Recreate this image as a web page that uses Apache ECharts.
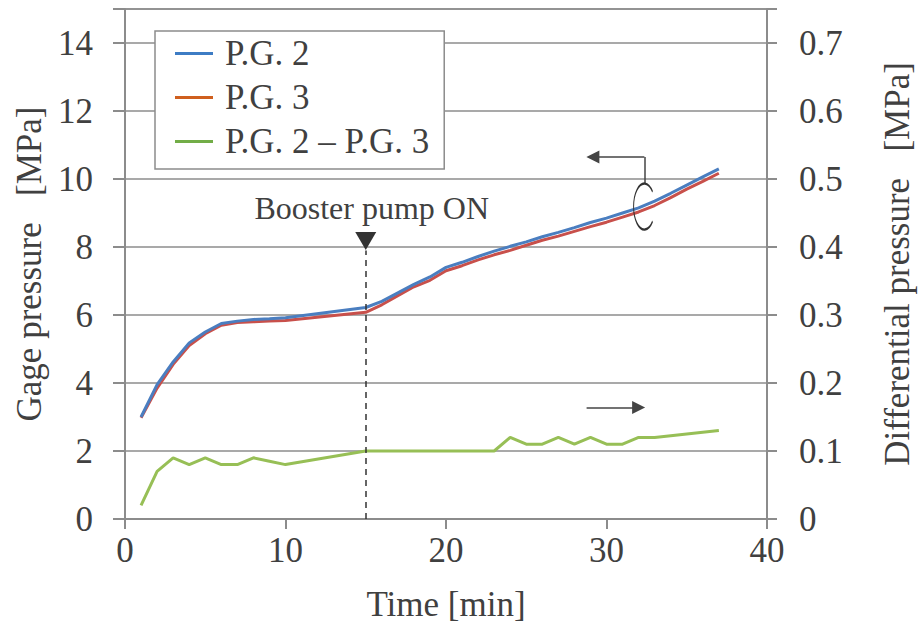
<!DOCTYPE html>
<html><head><meta charset="utf-8">
<script src="https://cdn.jsdelivr.net/npm/echarts@6/dist/echarts.min.js"></script>
<style>html,body{margin:0;padding:0;background:#fff}#c{width:923px;height:634px}</style>
</head><body><div id="c"></div>
<script>
// Time [min]
const timePG = [1,2,3,4,5,6,7,8,9,10,15,16,17,18,19,20,21,22,23,24,25,26,27,28,29,30,31,32,33,34,35,36,37];
// P.G. 2 [MPa]
const pg2 = [3.0,3.95,4.62,5.18,5.5,5.75,5.82,5.87,5.89,5.92,6.22,6.4,6.65,6.9,7.12,7.4,7.55,7.72,7.88,8.02,8.15,8.3,8.43,8.57,8.72,8.85,9.0,9.15,9.35,9.58,9.82,10.06,10.3];
// P.G. 3 [MPa]
const pg3 = [2.98,3.85,4.55,5.1,5.45,5.7,5.78,5.8,5.82,5.84,6.08,6.3,6.57,6.83,7.02,7.3,7.45,7.62,7.77,7.9,8.05,8.2,8.32,8.46,8.6,8.73,8.88,9.03,9.22,9.45,9.7,9.93,10.17];
// P.G. 2 - P.G. 3 [MPa]
const timeDiff = [1,2,3,4,5,6,7,8,9,10,15,16,17,18,19,20,21,22,23,24,25,26,27,28,29,30,31,32,33,37];
const diff = [0.02,0.07,0.09,0.08,0.09,0.08,0.08,0.09,0.085,0.08,0.1,0.1,0.1,0.1,0.1,0.1,0.1,0.1,0.1,0.12,0.11,0.11,0.12,0.11,0.12,0.11,0.11,0.12,0.12,0.13];
const pumpOnTime = 15;
const seriesNames = ['P.G. 2','P.G. 3','P.G. 2 \u2013 P.G. 3'];

const FONT = '"Liberation Serif", "Times New Roman", serif';
const TXT = '#404040';
const GRID = '#8c8c8c';
const FS = 35;

const zip = (xs, ys) => xs.map((x, i) => [x, ys[i]]);

const chart = echarts.init(document.getElementById('c'), null, {renderer: 'svg'});
const cPath = 'path://M19.4 8.2 A11 23 0 1 0 19.4 37.8';
chart.setOption({
  animation: false,
  backgroundColor: '#fff',
  textStyle: {fontFamily: FONT, color: TXT},
  grid: {left: 125, right: 152, top: 9, bottom: 115, show: true, borderColor: GRID, borderWidth: 1.5, backgroundColor: 'transparent'},
  legend: {
    orient: 'vertical', left: 155, top: 31,
    backgroundColor: '#fff', borderColor: GRID, borderWidth: 1.5,
    padding: [5, 15, 10, 20], itemGap: 9, itemWidth: 38, itemHeight: 3, icon: 'rect',
    textStyle: {fontFamily: FONT, fontSize: FS, color: TXT, padding: [0, 0, 0, 7], lineHeight: 34},
    data: [
      {name: seriesNames[0], itemStyle: {color: '#3d7cc4'}},
      {name: seriesNames[1], itemStyle: {color: '#cf5f1e'}},
      {name: seriesNames[2], itemStyle: {color: '#72ad47'}}
    ]
  },
  xAxis: {
    type: 'value', min: 0, max: 40, interval: 10,
    name: 'Time [min]', nameLocation: 'middle', nameGap: 68,
    nameTextStyle: {fontFamily: FONT, fontSize: FS, color: TXT},
    axisLine: {show: true, lineStyle: {color: GRID, width: 2}},
    axisTick: {show: true, length: 10, lineStyle: {color: GRID, width: 2}},
    axisLabel: {fontFamily: FONT, fontSize: FS, color: TXT, margin: 14},
    splitLine: {show: false}
  },
  yAxis: [{
    type: 'value', min: 0, max: 15, interval: 2, position: 'left',
    name: 'Gage pressure   [MPa]', nameLocation: 'middle', nameGap: 71, nameRotate: 90,
    nameTextStyle: {fontFamily: FONT, fontSize: FS, color: TXT},
    axisLine: {show: true, lineStyle: {color: GRID, width: 2}},
    axisTick: {show: true, length: 12, lineStyle: {color: GRID, width: 2}},
    axisLabel: {fontFamily: FONT, fontSize: FS, color: TXT, margin: 32, formatter: v => v > 14 ? '' : String(v)},
    splitLine: {show: true, lineStyle: {color: GRID, width: 1.5}}
  }, {
    type: 'value', min: 0, max: 0.75, interval: 0.1, position: 'right',
    name: 'Differential pressure   [MPa]', nameLocation: 'middle', nameGap: 113, nameRotate: 90,
    nameTextStyle: {fontFamily: FONT, fontSize: FS, color: TXT},
    axisLine: {show: true, lineStyle: {color: GRID, width: 2}},
    axisTick: {show: true, length: 10, lineStyle: {color: GRID, width: 2}},
    axisLabel: {fontFamily: FONT, fontSize: FS, color: TXT, margin: 32, formatter: v => v > 0.71 ? '' : (v === 0 ? '0' : v.toFixed(1))},
    splitLine: {show: false}
  }],
  series: [{
    name: seriesNames[0], type: 'line', yAxisIndex: 0, data: zip(timePG, pg2),
    showSymbol: false, lineStyle: {color: '#4a7ec0', width: 3}, itemStyle: {color: '#4a7ec0'}, z: 3,
    markPoint: {
      silent: true,
      data: [
        {coord: [pumpOnTime, 8.18], symbol: 'triangle', symbolRotate: 180, symbolSize: [21, 18],
          itemStyle: {color: '#333'},
          label: {show: true, position: 'top', distance: 8, offset: [6, 0], formatter: 'Booster pump ON',
            fontFamily: FONT, fontSize: 32, color: TXT}},
        {coord: [32.28, 9.19], symbol: cPath, symbolSize: [19, 46], symbolKeepAspect: false,
          itemStyle: {color: 'none', borderColor: '#333', borderWidth: 1.5}, label: {show: false}}
      ]
    },
    markLine: {
      silent: true, symbol: ['none', 'none'],
      lineStyle: {color: '#333', width: 1.5, type: [6, 5]},
      label: {show: false},
      data: [[{coord: [pumpOnTime, 0]}, {coord: [pumpOnTime, 7.9]}]]
    }
  }, {
    name: seriesNames[1], type: 'line', yAxisIndex: 0, data: zip(timePG, pg3),
    showSymbol: false, lineStyle: {color: '#c8504b', width: 3}, itemStyle: {color: '#c8504b'}, z: 2,
    markLine: {
      silent: true,
      lineStyle: {color: '#444', width: 1.5, type: 'solid'},
      label: {show: false},
      data: [
        [{coord: [32.36, 10.65], symbol: 'none'}, {coord: [29.15, 10.65], symbol: 'triangle', symbolSize: [13, 13], symbolRotate: 90}],
        [{coord: [32.36, 10.65], symbol: 'none'}, {coord: [32.36, 9.87], symbol: 'none'}]
      ]
    }
  }, {
    name: seriesNames[2], type: 'line', yAxisIndex: 1, data: zip(timeDiff, diff),
    showSymbol: false, lineStyle: {color: '#97bf56', width: 3}, itemStyle: {color: '#97bf56'}, z: 2,
    markLine: {
      silent: true,
      lineStyle: {color: '#444', width: 1.5, type: 'solid'},
      label: {show: false},
      data: [
        [{coord: [28.76, 0.164], symbol: 'none'}, {coord: [32.0, 0.164], symbol: 'triangle', symbolSize: [13, 13], symbolRotate: -90}]
      ]
    }
  }]
});
</script></body></html>
